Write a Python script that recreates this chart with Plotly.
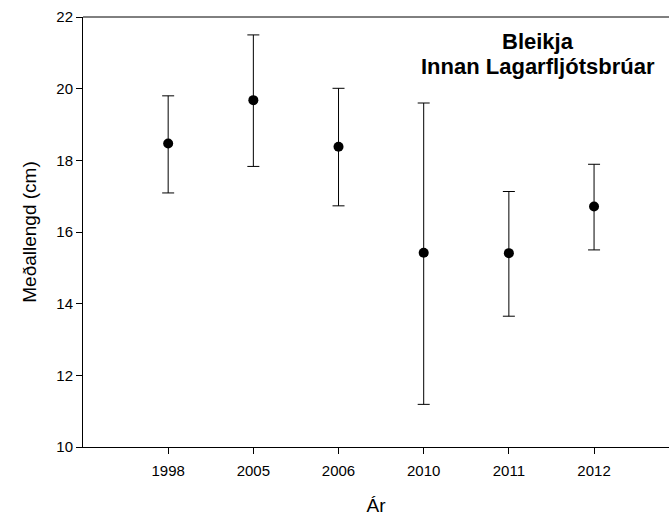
import plotly.graph_objects as go

# Meðallengd bleikju innan Lagarfljótsbrúar
years = ["1998", "2005", "2006", "2010", "2011", "2012"]
mean_len = [18.47, 19.68, 18.38, 15.42, 15.41, 16.71]
upper = [19.80, 21.50, 20.01, 19.60, 17.13, 17.89]
lower = [17.09, 17.83, 16.73, 11.19, 13.65, 15.50]

err_plus = [u - m for u, m in zip(upper, mean_len)]
err_minus = [m - l for m, l in zip(mean_len, lower)]

fig = go.Figure()
fig.add_trace(go.Scatter(
    x=years, y=mean_len,
    mode="markers",
    marker=dict(color="black", size=10),
    error_y=dict(type="data", symmetric=False, array=err_plus, arrayminus=err_minus,
                 color="black", thickness=1, width=6),
    showlegend=False,
))

font = "Liberation Sans, Arial, sans-serif"
fig.update_layout(
    width=669, height=520,
    margin=dict(l=83, r=0, t=17, b=73),
    paper_bgcolor="white", plot_bgcolor="white",
    font=dict(family=font, color="black", size=15),
    xaxis=dict(
        type="category", range=[-1, 5.88],
        showline=True, linecolor="black", linewidth=1,
        ticks="outside", ticklen=6, tickcolor="black", ticklabelstandoff=4,
        showgrid=False, zeroline=False,
        title=dict(text="Ár", font=dict(size=19), standoff=20),
    ),
    yaxis=dict(
        range=[10, 22], dtick=2,
        showline=True, linecolor="black", linewidth=1,
        ticks="outside", ticklen=6, tickcolor="black",
        showgrid=False, zeroline=False,
        title=dict(text="Meðallengd (cm)", font=dict(size=19), standoff=14),
    ),
    annotations=[
        dict(text="<b>Bleikja</b>", xref="paper", yref="paper", x=0.7765, y=0.942,
             xanchor="center", yanchor="middle", showarrow=False,
             font=dict(size=22, family=font)),
        dict(text="<b>Innan Lagarfljótsbrúar</b>", xref="paper", yref="paper", x=0.7765, y=0.886,
             xanchor="center", yanchor="middle", showarrow=False,
             font=dict(size=22, family=font)),
    ],
    shapes=[dict(type="line", xref="paper", yref="paper", x0=0, x1=1, y0=1, y1=1,
                 line=dict(color="black", width=1))],
)

# the page's default body margin would shift the figure by 8 px
fig.write_html("out.html", config={"displayModeBar": False},
               post_script="document.body.style.margin='0';")
